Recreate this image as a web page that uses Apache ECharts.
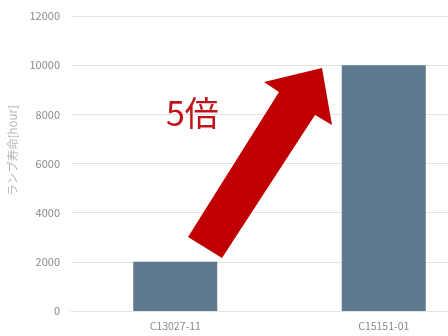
<!DOCTYPE html>
<html><head><meta charset="utf-8">
<script src="https://cdn.jsdelivr.net/npm/echarts@6/dist/echarts.min.js"></script>
<style>html,body{margin:0;padding:0;background:#fff}#c{width:448px;height:336px}</style>
</head><body><div id="c"></div>
<script>
const categories = ['C13027-11', 'C15151-01'];
const lifetimes = [2000, 10000];
const yTicks = [0, 2000, 4000, 6000, 8000, 10000, 12000];
const yAxisName = 'ランプ寿命[hour]';
const annotation = '5倍';

const chart = echarts.init(document.getElementById('c'));
const font = '"Noto Sans CJK JP", "Noto Sans", sans-serif';
chart.setOption({
  animation: false,
  grid: {left: 71, top: 16, width: 417, bottom: 25, containLabel: false, outerBoundsMode: 'none'},
  xAxis: {
    type: 'category', data: categories,
    axisLine: {show: true, lineStyle: {color: '#e3e3e3'}},
    axisTick: {show: false},
    axisLabel: {color: '#8a8a8a', fontSize: 10.5, margin: 10, fontFamily: font}
  },
  yAxis: {
    type: 'value', min: yTicks[0], max: yTicks[yTicks.length - 1], interval: 2000,
    name: yAxisName, nameLocation: 'middle', nameGap: 53, nameRotate: 90,
    nameTextStyle: {color: '#b8b8b8', fontSize: 11.5, fontFamily: font, padding: [0, 0, 0, 26]},
    axisLine: {show: false}, axisTick: {show: false},
    axisLabel: {color: '#8a8a8a', fontSize: 11, margin: 11, fontFamily: font, formatter: v => String(v)},
    splitLine: {lineStyle: {color: '#e3e3e3', width: 1}}
  },
  series: [{
    type: 'bar', data: lifetimes, barWidth: 84,
    itemStyle: {color: '#5f7a8e'}
  }],
  graphic: [
    {
      type: 'polygon', z: 100,
      shape: {points: [[188, 237], [222, 258], [315, 115], [332, 125], [322, 68], [264, 82], [279, 92]]},
      style: {fill: '#c00000'}
    },
    {
      type: 'text', z: 100, left: 166, top: 96,
      style: {text: annotation, fill: '#c0131a', fontSize: 34, fontFamily: font}
    }
  ]
});
</script></body></html>
